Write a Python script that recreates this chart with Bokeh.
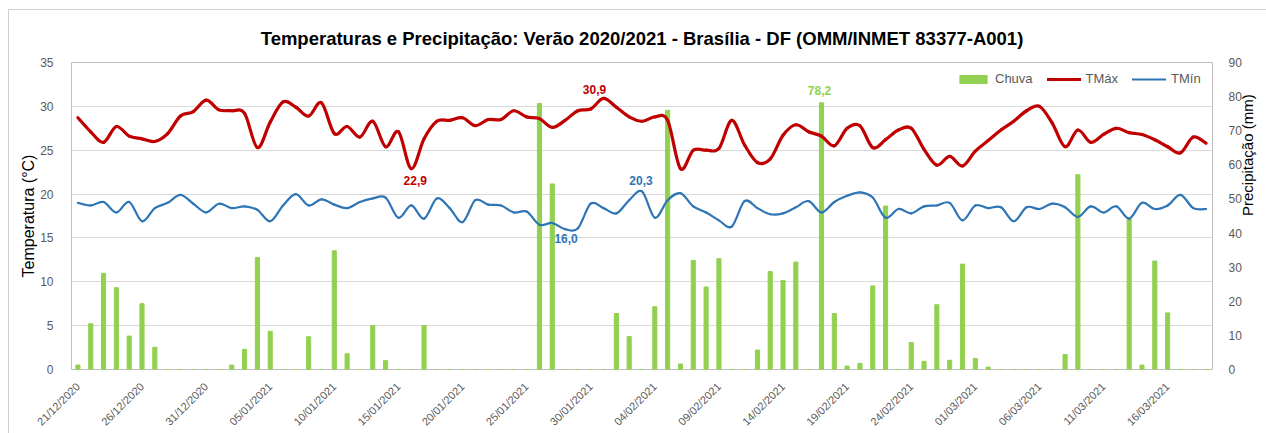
import numpy as np
import pandas as pd
from bokeh.plotting import figure
from bokeh.models import (Range1d, LinearAxis, FixedTicker, Legend, LegendItem,
                          ColumnDataSource)
from bokeh.embed import file_html
from bokeh.resources import INLINE
from bokeh.core.properties import value

# ---------------- data ----------------
dates = [d.strftime("%d/%m/%Y") for d in pd.date_range("2020-12-21", "2021-03-19")]

tmax = [28.7, 27.1, 25.9, 27.7, 26.6, 26.3, 26.0, 26.9, 28.9, 29.4,
        30.7, 29.6, 29.5, 29.2, 25.3, 28.2, 30.5, 29.9, 28.9, 30.4,
        26.9, 27.7, 26.5, 28.3, 25.4, 27.1, 22.9, 26.3, 28.3, 28.4,
        28.7, 27.8, 28.5, 28.5, 29.5, 28.8, 28.6, 27.6, 28.4, 29.5,
        29.7, 30.9, 29.9, 28.8, 28.3, 28.8, 28.4, 22.9, 25.0, 25.0,
        25.2, 28.4, 25.6, 23.6, 24.0, 26.7, 27.9, 27.1, 26.6, 25.5,
        27.5, 27.8, 25.3, 26.2, 27.3, 27.5, 25.1, 23.3, 24.3, 23.2,
        24.9, 26.1, 27.3, 28.3, 29.5, 30.0, 28.1, 25.4, 27.3, 25.9,
        26.8, 27.5, 27.0, 26.8, 26.2, 25.4, 24.7, 26.5, 25.8]

tmin = [19.0, 18.7, 19.1, 17.9, 19.1, 16.9, 18.4, 19.0, 19.9, 18.9,
        17.9, 18.9, 18.4, 18.6, 18.2, 16.9, 18.7, 20.0, 18.7, 19.4,
        18.8, 18.4, 19.1, 19.5, 19.6, 17.3, 18.7, 17.2, 19.5, 18.4,
        16.8, 19.3, 18.8, 18.7, 17.9, 18.0, 16.5, 16.7, 16.0, 16.1,
        18.9, 18.4, 17.8, 19.3, 20.3, 17.3, 19.3, 20.1, 18.6, 17.9,
        17.0, 16.3, 19.2, 18.4, 17.7, 17.8, 18.5, 19.2, 17.9, 19.1,
        19.8, 20.2, 19.6, 17.3, 18.3, 17.8, 18.6, 18.7, 19.0, 17.0,
        18.7, 18.4, 18.5, 16.9, 18.5, 18.3, 18.9, 18.5, 17.4, 18.6,
        17.9, 18.6, 17.2, 19.0, 18.3, 18.7, 19.9, 18.4, 18.3]

chuva = [1.3, 13.4, 28.2, 24.0, 9.8, 19.3, 6.5, 0, 0, 0,
         0, 0, 1.3, 5.9, 32.8, 11.2, 0, 0, 9.6, 0,
         34.8, 4.6, 0, 12.9, 2.6, 0, 0, 12.9, 0, 0,
         0, 0, 0, 0, 0, 0, 78.0, 54.4, 0, 0,
         0, 0, 16.4, 9.7, 0, 18.4, 76.0, 1.6, 32.0, 24.2,
         32.5, 0, 0, 5.7, 28.7, 26.1, 31.5, 0, 78.2, 16.4,
         1.0, 1.8, 24.5, 47.9, 0, 7.9, 2.4, 19.0, 2.7, 30.9,
         3.2, 0.7, 0, 0, 0, 0, 0, 4.4, 57.1, 0,
         0, 0, 44.2, 1.3, 31.8, 16.6, 0, 0, 0]

tick_every = 5

days = list(range(len(dates)))

C_BAR = "#92D050"
C_MAX = "#C00000"
C_MIN = "#2E75B6"
C_TXT = "#595959"
FONT = "Liberation Sans"


def smooth_segments(xs, ys):
    xs = np.asarray(xs, float)
    ys = np.asarray(ys, float)
    n = len(xs)
    d = dict(x0=[], y0=[], x1=[], y1=[], cx0=[], cy0=[], cx1=[], cy1=[])
    for i in range(n - 1):
        im1 = max(i - 1, 0)
        ip2 = min(i + 2, n - 1)
        d["x0"].append(xs[i]); d["y0"].append(ys[i])
        d["x1"].append(xs[i + 1]); d["y1"].append(ys[i + 1])
        d["cx0"].append(xs[i] + (xs[i + 1] - xs[im1]) / 6)
        d["cy0"].append(ys[i] + (ys[i + 1] - ys[im1]) / 6)
        d["cx1"].append(xs[i + 1] - (xs[ip2] - xs[i]) / 6)
        d["cy1"].append(ys[i + 1] - (ys[ip2] - ys[i]) / 6)
    return ColumnDataSource(d)


p = figure(width=1258, height=424, output_backend="svg", toolbar_location=None,
           x_range=Range1d(-0.5, len(dates) - 0.5), y_range=Range1d(0, 35),
           min_border_left=62, min_border_right=50, min_border_top=52,
           min_border_bottom=64)
p.extra_y_ranges = {"mm": Range1d(0, 90)}
p.styles = {"margin-left": "8px", "margin-top": "9px",
            "border-left": "1px solid #D0D0D0", "border-top": "1px solid #D0D0D0"}

p.title.text = "Temperaturas e Precipitação: Verão 2020/2021 - Brasília - DF (OMM/INMET 83377-A001)"
p.title.align = "center"
p.title.vertical_align = "middle"
p.title.text_font = FONT
p.title.text_font_size = "18.5px"
p.title.text_font_style = "bold"
p.title.text_color = "#000000"
p.title.standoff = 26

p.outline_line_color = "#BFBFBF"
p.background_fill_color = "white"
p.border_fill_color = "white"
p.xgrid.visible = False
p.ygrid.grid_line_color = "#D9D9D9"
p.ygrid.ticker = FixedTicker(ticks=list(range(0, 36, 5)))

# bars
bars = p.vbar(x=days, top=chuva, width=0.32, color=C_BAR, y_range_name="mm")

# smooth lines
smax = smooth_segments(days, tmax)
smin = smooth_segments(days, tmin)
rmin = p.bezier(x0="x0", y0="y0", x1="x1", y1="y1", cx0="cx0", cy0="cy0",
                cx1="cx1", cy1="cy1", source=smin, line_color=C_MIN,
                line_width=2.2, line_cap="round")
rmax = p.bezier(x0="x0", y0="y0", x1="x1", y1="y1", cx0="cx0", cy0="cy0",
                cx1="cx1", cy1="cy1", source=smax, line_color=C_MAX,
                line_width=3.2, line_cap="round")

# data labels
def fmt(v):
    return f"{v:.1f}".replace(".", ",")

imax = int(np.argmax(tmax)); imin_max = int(np.argmin(tmax))
jmin = int(np.argmin(tmin)); jmax = int(np.argmax(tmin))
kmax = int(np.argmax(chuva))

lab_style = dict(text_font=value(FONT), text_font_size="12px",
                 text_font_style="bold", text_align="center",
                 text_baseline="middle")
p.text(x=[imax], y=[tmax[imax]], text=[fmt(tmax[imax])], x_offset=-9,
       y_offset=-9, text_color=C_MAX, **lab_style)
p.text(x=[imin_max], y=[tmax[imin_max]], text=[fmt(tmax[imin_max])], x_offset=4,
       y_offset=12, text_color=C_MAX, **lab_style)
p.text(x=[jmin], y=[tmin[jmin]], text=[fmt(tmin[jmin])], x_offset=1,
       y_offset=9, text_color=C_MIN, **lab_style)
p.text(x=[jmax], y=[tmin[jmax]], text=[fmt(tmin[jmax])], x_offset=-1,
       y_offset=-11, text_color=C_MIN, **lab_style)
p.text(x=[kmax], y=[chuva[kmax]], text=[fmt(chuva[kmax])], x_offset=-2,
       y_offset=-12, text_color=C_BAR, y_range_name="mm", **lab_style)

# axes
xa = p.xaxis[0]
xa.ticker = FixedTicker(ticks=days[::tick_every])
xa.major_label_overrides = {i: dates[i] for i in days[::tick_every]}
xa.major_label_orientation = np.pi / 4
xa.major_label_text_font = FONT
xa.major_label_text_font_size = "11px"
xa.major_label_text_color = C_TXT
xa.axis_line_color = None
xa.major_tick_line_color = None
xa.minor_tick_line_color = None
xa.major_label_standoff = 9

ya = p.yaxis[0]
ya.ticker = FixedTicker(ticks=list(range(0, 36, 5)))
ya.axis_label = "Temperatura (°C)"
ya.axis_label_text_font = FONT
ya.axis_label_text_font_size = "16px"
ya.axis_label_text_font_style = "normal"
ya.axis_label_text_color = "#000000"
ya.axis_label_standoff = 0
ya.major_label_text_font = FONT
ya.major_label_text_font_size = "12px"
ya.major_label_text_color = C_TXT
ya.major_label_standoff = 12
ya.axis_line_color = None
ya.major_tick_line_color = None
ya.minor_tick_line_color = None

yr = LinearAxis(y_range_name="mm", ticker=FixedTicker(ticks=list(range(0, 91, 10))))
yr.axis_label = "Precipitação (mm)"
yr.axis_label_text_font = FONT
yr.axis_label_text_font_size = "15px"
yr.axis_label_text_font_style = "normal"
yr.axis_label_text_color = "#000000"
yr.axis_label_standoff = 3
if "axis_label_orientation" in yr.properties():
    yr.axis_label_orientation = np.pi / 2
yr.major_label_text_font = FONT
yr.major_label_text_font_size = "12px"
yr.major_label_text_color = C_TXT
yr.major_label_standoff = 10
yr.axis_line_color = None
yr.major_tick_line_color = None
yr.minor_tick_line_color = None
p.add_layout(yr, "right")

legend = Legend(items=[LegendItem(label="Chuva", renderers=[bars]),
                       LegendItem(label="TMáx", renderers=[rmax]),
                       LegendItem(label="TMín", renderers=[rmin])],
                orientation="horizontal", location=(883, 281),
                background_fill_alpha=0, border_line_alpha=0,
                glyph_width=34, glyph_height=10, label_standoff=5,
                spacing=14, padding=2, margin=0,
                label_text_font=FONT, label_text_font_size="13px",
                label_text_color=C_TXT)
p.add_layout(legend)

open("out.html", "w").write(file_html(p, INLINE))
